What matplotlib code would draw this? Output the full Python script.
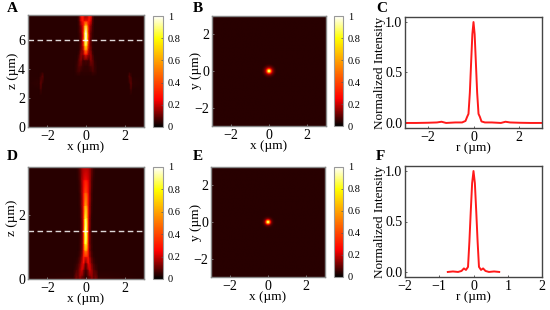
import numpy as np
import matplotlib
matplotlib.use("Agg")
import matplotlib.pyplot as plt
from matplotlib.colors import LinearSegmentedColormap

plt.rcParams['font.family'] = ['Liberation Serif', 'DejaVu Sans']

W, H = 550, 310

# field A, half of the map (mirrored about x = 0)
a_x = [0, .08, .16, .25, .35, .45, .6, 2.15, 2.25, 2.33, 2.42, 3]
a_z = [0, 2.2, 2.6, 3.0, 3.5, 3.8, 4.2, 4.6, 5.0, 5.3, 5.6, 6.0, 6.5, 7.0, 7.3, 7.7]
a_field = [
    [.04, .04, .04, .04, .04, .04, .04, .04, .04, .04, .04, .04],
    [.04, .04, .04, .04, .04, .04, .04, .04, .04, .04, .04, .04],
    [.04, .04, .04, .04, .04, .04, .04, .04, .04, .07, .04, .04],
    [.04, .04, .04, .04, .04, .04, .04, .04, .05, .10, .05, .04],
    [.04, .04, .04, .04, .04, .04, .04, .04, .10, .06, .04, .04],
    [.05, .05, .05, .05, .07, .06, .04, .04, .04, .04, .04, .04],
    [.05, .05, .06, .08, .09, .06, .04, .04, .04, .04, .04, .04],
    [.08, .07, .07, .13, .10, .05, .04, .04, .04, .04, .04, .04],
    [.30, .22, .14, .15, .07, .04, .04, .04, .04, .04, .04, .04],
    [.55, .40, .16, .12, .05, .04, .04, .04, .04, .04, .04, .04],
    [.80, .55, .20, .10, .05, .04, .04, .04, .04, .04, .04, .04],
    [.98, .70, .22, .09, .05, .04, .04, .04, .04, .04, .04, .04],
    [1.0, .70, .22, .10, .06, .04, .04, .04, .04, .04, .04, .04],
    [.70, .50, .22, .15, .07, .04, .04, .04, .04, .04, .04, .04],
    [.30, .28, .30, .22, .08, .04, .04, .04, .04, .04, .04, .04],
    [.12, .15, .30, .28, .10, .04, .04, .04, .04, .04, .04, .04],
]

# field D, half of the map
d_x = [0, .06, .12, .2, .3, .4, .5, .65, 3]
d_z = [0, .1, .3, .5, .7, .9, 1.1, 1.5, 1.9, 2.3, 2.7, 3.1, 3.5]
d_field = [
    [.06, .07, .09, .08, .13, .09, .12, .06, .04],
    [.04, .06, .08, .12, .16, .10, .12, .05, .04],
    [.07, .10, .15, .22, .16, .09, .07, .04, .04],
    [.10, .18, .28, .20, .11, .07, .05, .04, .04],
    [.30, .30, .30, .15, .08, .05, .04, .04, .04],
    [.60, .52, .30, .12, .06, .04, .04, .04, .04],
    [.82, .70, .32, .11, .06, .04, .04, .04, .04],
    [1.0, .80, .32, .11, .05, .04, .04, .04, .04],
    [.85, .70, .32, .13, .05, .04, .04, .04, .04],
    [.62, .52, .30, .15, .06, .04, .04, .04, .04],
    [.42, .38, .27, .16, .07, .04, .04, .04, .04],
    [.28, .26, .22, .17, .08, .05, .04, .04, .04],
    [.16, .16, .16, .15, .10, .06, .04, .04, .04],
]

# focal spots, radial profile
spot_r = [0, .05, .1, .15, .2, .3, .4, 3, 5]
spot_b = [1.0, .85, .5, .25, .14, .07, .04, .04, .04]
spot_e = [1.0, .82, .45, .2, .1, .05, .04, .04, .04]

# line cuts
c_r = [-3, -2.5, -2, -1.6, -1.4, -1.2, -.8, -.5, -.35, -.28, -.22, -.16, -.1, -.05, 0,
       .05, .1, .16, .22, .28, .35, .5, .8, 1.2, 1.4, 1.6, 2, 2.5, 3]
c_i = [0, 0, .002, .005, .012, 0, .005, .005, .02, .06, .09, .3, .62, .88, 1.0,
       .88, .62, .3, .09, .06, .015, .005, .005, 0, .012, .005, .002, 0, 0]
f_r = [-.75, -.6, -.45, -.35, -.28, -.22, -.16, -.12, -.08, -.04, 0,
       .04, .08, .12, .16, .22, .28, .35, .45, .6, .75]
f_i = [0, .005, 0, .01, .035, .02, .05, .3, .6, .88, 1.0,
       .88, .6, .3, .05, .02, .035, .01, 0, .005, 0]

cbar_ticks = [0, .2, .4, .6, .8, 1]
cbar_labels = ['0', '0.2', '0.4', '0.6', '0.8', '1']

cmap = LinearSegmentedColormap.from_list(
    'field', [(0, 'black'), (.25, '#ff0000'), (.8, '#ffff00'), (1, 'white')])


def px_axes(x0, y0, x1, y1):
    ax = fig.add_axes([x0 / W, 1 - y1 / H, (x1 - x0) / W, (y1 - y0) / H])
    ax.px_box = (x0, y0, x1, y1)
    return ax


def style(ax, color, labels, label_x, label_y):
    for s in ax.spines.values():
        s.set_color(color)
        s.set_linewidth(1)
    ax.tick_params(direction='in', length=1.5, width=.6, color=color, labelsize=10, pad=2)
    ax.set_xlabel(labels[0], fontsize=9.5, labelpad=-1)
    ax.set_ylabel(labels[1], fontsize=9.5, va='center')
    # place the y label by pixel, like the reference
    x0, y0, x1, y1 = ax.px_box
    ax.yaxis.set_label_coords((label_x - x0) / (x1 - x0), (y1 - label_y) / (y1 - y0))


def add_cbar(im, x0, y0, x1, y1):
    cax = px_axes(x0, y0, x1, y1)
    cb = fig.colorbar(im, cax=cax, ticks=cbar_ticks)
    cb.ax.set_yticklabels(cbar_labels)
    cb.ax.tick_params(direction='in', length=1.5, width=.5, color='#555555', labelsize=7.5, pad=3.5)
    cb.outline.set_edgecolor('#999999')
    cb.outline.set_linewidth(.8)


def field_panel(box, cbox, xs, zs, half, cut, yticks, labels, lab):
    ax = px_axes(*box)
    half = np.array(half)
    xs = np.array(xs)
    full_x = np.concatenate([-xs[:0:-1], xs])
    full = np.hstack([half[:, :0:-1], half])
    im = ax.pcolormesh(full_x, zs, full, cmap=cmap, vmin=0, vmax=1, shading='gouraud')
    ax.axhline(cut, color='white', ls=(0, (4, 2.5)), lw=1, alpha=.85)
    ax.set_xlim(-3, 3)
    ax.set_ylim(0, zs[-1])
    ax.set_xticks([-2, 0, 2])
    ax.set_yticks(yticks)
    style(ax, '#888888', labels, *lab)
    add_cbar(im, *cbox)
    return ax


def spot_panel(box, cbox, prof, labels, lab):
    ax = px_axes(*box)
    g = np.linspace(-3, 3, 601)
    xx, yy = np.meshgrid(g, g)
    img = np.interp(np.hypot(xx, yy), spot_r, prof)
    im = ax.imshow(img, extent=[-3, 3, -3, 3], origin='lower', cmap=cmap,
                   vmin=0, vmax=1, aspect='auto')
    ax.set_xticks([-2, 0, 2])
    ax.set_yticks([-2, 0, 2])
    style(ax, '#888888', labels, *lab)
    add_cbar(im, *cbox)
    return ax


def line_panel(box, r, i, xlim, xticks, lab):
    ax = px_axes(*box)
    ax.plot(r, i, color='#ff1a1a', lw=1.4)
    ax.set_xlim(*xlim)
    ax.set_ylim(-.05, 1.05)
    ax.set_xticks(xticks)
    ax.set_yticks([0, .5, 1])
    ax.set_yticklabels(['0.0', '0.5', '1.0'])
    style(ax, '#444444', ('r (µm)', 'Normalized Intensity'), *lab)
    return ax


fig = plt.figure(figsize=(W / 100, H / 100), dpi=100)

field_panel((28, 15, 144, 127), (153, 16, 163, 127), a_x, a_z, a_field, 6, [0, 2, 4, 6],
            ('x (µm)', 'z (µm)'), (13, 71))
field_panel((28, 167, 144, 279), (153, 167, 163, 279), d_x, d_z, d_field, 1.5, [0, 2],
            ('x (µm)', 'z (µm)'), (12, 218))
spot_panel((212, 16, 326, 126), (334, 16, 343, 126), spot_b, ('x (µm)', 'y (µm)'), (196, 70))
spot_panel((211, 167, 325, 277), (334, 167, 343, 277), spot_e, ('x (µm)', 'y (µm)'), (196, 222))
line_panel((405, 17, 542, 128), c_r, c_i, (-3, 3), [-2, 0, 2], (380, 73))
line_panel((405, 166, 542, 277), f_r, f_i, (-2, 2), [-2, -1, 0, 1, 2], (380, 222))

for letter, x, y in [('A', 7, 9), ('B', 193, 8), ('C', 376, 8),
                     ('D', 7, 157), ('E', 193, 157), ('F', 376, 157)]:
    fig.text(x / W, 1 - y / H, letter, fontsize=11, fontweight='bold', va='center', ha='left')

fig.savefig('out.png', dpi=100)
